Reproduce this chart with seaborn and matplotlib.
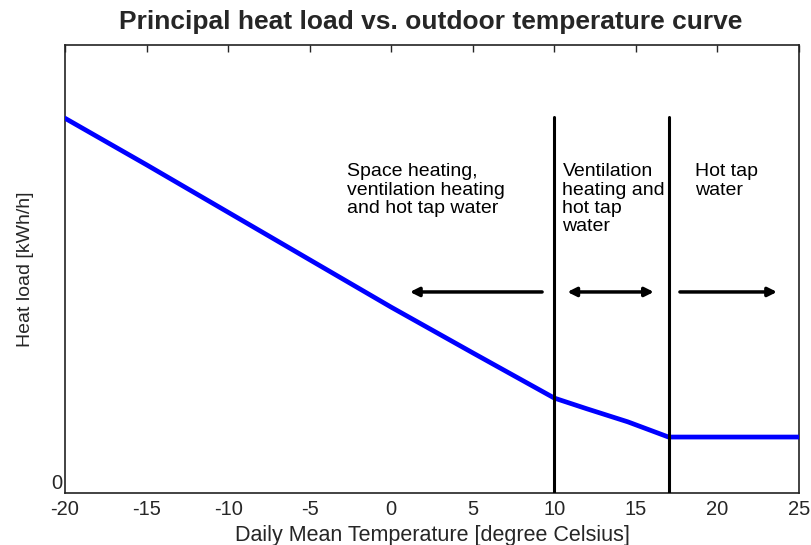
import matplotlib
matplotlib.use("Agg")
import matplotlib.pyplot as plt
import seaborn as sns
import pandas as pd

# ── Données ───────────────────────────────────────────────
temps = [-20, -15, -10, -5, 0, 5, 10, 12, 14.5, 17, 25]
loads = [83.7, 73.3, 62.7, 52.1, 41.5, 31.3, 21.2, 18.8, 15.9, 12.5, 12.5]

limits = [10, 17]          # seuils verticaux (°C)
limit_top = 83.9

regions = ["Space heating,\nventilation heating\nand hot tap water",
           "Ventilation\nheating and\nhot tap\nwater",
           "Hot tap\nwater"]
region_x = [-2.7, 10.5, 18.6]
region_y = 73.6

arrow_y = 44.9
arrow_from = [9.25, 10.8, 17.7]
arrow_to = [1.15, 16.1, 23.65]
arrow_style = ["-|>", "<|-|>", "-|>"]

xticks = [-20, -15, -10, -5, 0, 5, 10, 15, 20, 25]

sns.set_style("white")
plt.rcParams["font.family"] = ["Liberation Sans", "DejaVu Sans"]

df = pd.DataFrame({"temp": temps, "load": loads})

fig = plt.figure(figsize=(8.12, 5.45), dpi=100)
ax = fig.add_axes([0.080, 0.0954, 0.904, 0.8216])

sns.lineplot(data=df, x="temp", y="load", ax=ax, color="#0000FF", linewidth=3.4, zorder=3)

for xv in limits:
    ax.plot([xv, xv], [0, limit_top], color="black", linewidth=2.2, zorder=4)

for x0, x1, st in zip(arrow_from, arrow_to, arrow_style):
    ax.annotate("", xy=(x1, arrow_y), xytext=(x0, arrow_y),
                arrowprops=dict(arrowstyle=st, color="black", lw=2.5,
                                mutation_scale=13, shrinkA=0, shrinkB=0))

for txt, xv in zip(regions, region_x):
    ax.text(xv, region_y, txt, ha="left", va="top", fontsize=14,
            linespacing=1.1, color="black")

ax.set_xlim(-20, 25)
ax.set_ylim(0, 100)
ax.set_xticks(xticks)
ax.set_xticklabels([str(t) for t in xticks], fontsize=14.5)
ax.set_yticks([0])
ax.set_yticklabels(["0"], fontsize=14.5, va="bottom")
ax.tick_params(axis="x", direction="in", length=5, width=1, top=True, pad=5)
ax.tick_params(axis="y", direction="in", length=0, pad=2)
for s in ax.spines.values():
    s.set_visible(True)
    s.set_color("#222222")
    s.set_linewidth(1.2)

ax.set_xlabel("Daily Mean Temperature [degree Celsius]", fontsize=15.5, labelpad=4)
ax.set_ylabel("Heat load [kWh/h]", fontsize=14, labelpad=12)
fig.suptitle("Principal heat load vs. outdoor temperature curve",
             fontsize=19, fontweight="bold", x=0.530, y=0.982)

fig.savefig("out.png", dpi=100)
